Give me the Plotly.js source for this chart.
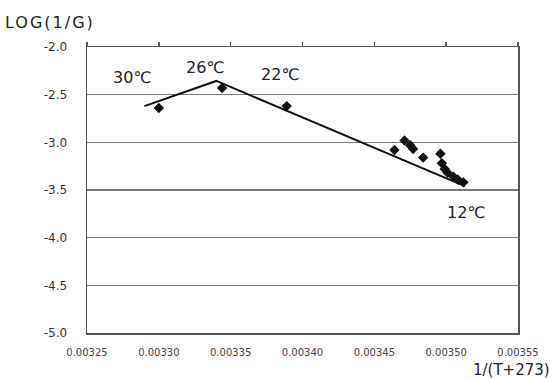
<!DOCTYPE html>
<html><head><meta charset="utf-8">
<script src="https://cdn.plot.ly/plotly-3.0.1.min.js"></script>
<style>html,body{margin:0;padding:0;background:#fff}#c{width:553px;height:378px}
.wide text{letter-spacing:2px}</style>
</head><body><div id="c"></div>
<script>
// measured points: x = 1/(T+273), y = LOG(1/G)
const ptX = [0.003300, 0.003344, 0.003389, 0.003464, 0.003471, 0.003475, 0.003477, 0.003484, 0.003496, 0.003497, 0.003499, 0.003501, 0.003505, 0.003508, 0.003512];
const ptY = [-2.64, -2.43, -2.62, -3.08, -2.98, -3.03, -3.07, -3.16, -3.12, -3.22, -3.28, -3.32, -3.36, -3.39, -3.42];
// fitted broken line
const fitX = [0.00329, 0.00334, 0.003513];
const fitY = [-2.62, -2.356, -3.46];
// tick labels
const xTickVals = [0.00325, 0.00330, 0.00335, 0.00340, 0.00345, 0.00350, 0.00355];
const xTickText = ["0.00325", "0.00330", "0.00335", "0.00340", "0.00345", "0.00350", "0.00355"];
const yTickVals = [-2.0, -2.5, -3.0, -3.5, -4.0, -4.5, -5.0];
const yTickText = ["-2.0", "-2.5", "-3.0", "-3.5", "-4.0", "-4.5", "-5.0"];
// temperature labels
const tempLabels = ["30℃", "26℃", "22℃", "12℃"];
const tempLabelX = [0.003281, 0.003332, 0.003384, 0.003514];
const tempLabelY = [-2.315, -2.21, -2.29, -3.74];

const font = "DejaVu Sans, Noto Sans CJK JP, sans-serif";
const traces = [
  {x: fitX, y: fitY, mode: 'lines', line: {color: '#111', width: 2}, hoverinfo: 'skip'},
  {x: ptX, y: ptY, mode: 'markers', marker: {symbol: 'diamond', size: 8, color: '#111'}},
  {x: [], y: [], xaxis: 'x2', yaxis: 'y', mode: 'markers'}
];
const annotations = tempLabels.map((t, i) => ({
  x: tempLabelX[i], y: tempLabelY[i], xref: 'x', yref: 'y', text: t, showarrow: false,
  font: {family: font, size: 16, color: '#222'}
}));
// plot area spans x 87..518, y 47..333 in pixels
annotations.push({x: (11 - 87) / 431, y: (333 - 23) / 286, xref: 'paper', yref: 'paper', xanchor: 'left', yanchor: 'middle',
  text: 'LOG(1/G)', showarrow: false, font: {family: font, size: 16, color: '#222'}});
annotations.push({x: (552 - 87) / 431, y: (333 - 370) / 286, xref: 'paper', yref: 'paper', xanchor: 'right', yanchor: 'middle',
  text: '1/(T+273)', showarrow: false, font: {family: font, size: 15, color: '#222'}});

const layout = {
  width: 553, height: 378,
  margin: {l: 87, r: 35, t: 47, b: 45},
  paper_bgcolor: '#fff', plot_bgcolor: '#fff',
  showlegend: false,
  xaxis: {range: [0.00325, 0.00355], tickvals: xTickVals, ticktext: xTickText, ticks: '',
    showgrid: false, zeroline: false, showline: true, linecolor: '#555', linewidth: 1.5, mirror: true,
    ticklabelstandoff: 9, tickfont: {family: font, size: 10, color: '#444'}},
  xaxis2: {range: [0.00325, 0.00355], overlaying: 'x', side: 'top', tickvals: xTickVals, ticks: 'outside',
    ticklen: 4, tickcolor: '#555', tickwidth: 1.5, showticklabels: false, showgrid: false, zeroline: false, showline: false},
  yaxis: {range: [-5, -2], tickvals: yTickVals, ticktext: yTickText, ticks: '',
    showgrid: true, gridcolor: '#777', gridwidth: 1.5, zeroline: false, showline: true, linecolor: '#555', linewidth: 1.5, mirror: true,
    ticklabelstandoff: 16, tickfont: {family: font, size: 12, color: '#333'}},
  annotations: annotations
};
Plotly.newPlot('c', traces, layout, {displayModeBar: false, staticPlot: true}).then(() => {
  // slight letter spacing on the axis-title annotations, like the reference's wide font
  const anns = document.querySelectorAll('.annotation');
  anns.forEach(a => {
    const t = a.querySelector('text');
    if (t && (t.textContent === 'LOG(1/G)')) a.classList.add('wide');
  });
});
</script></body></html>
